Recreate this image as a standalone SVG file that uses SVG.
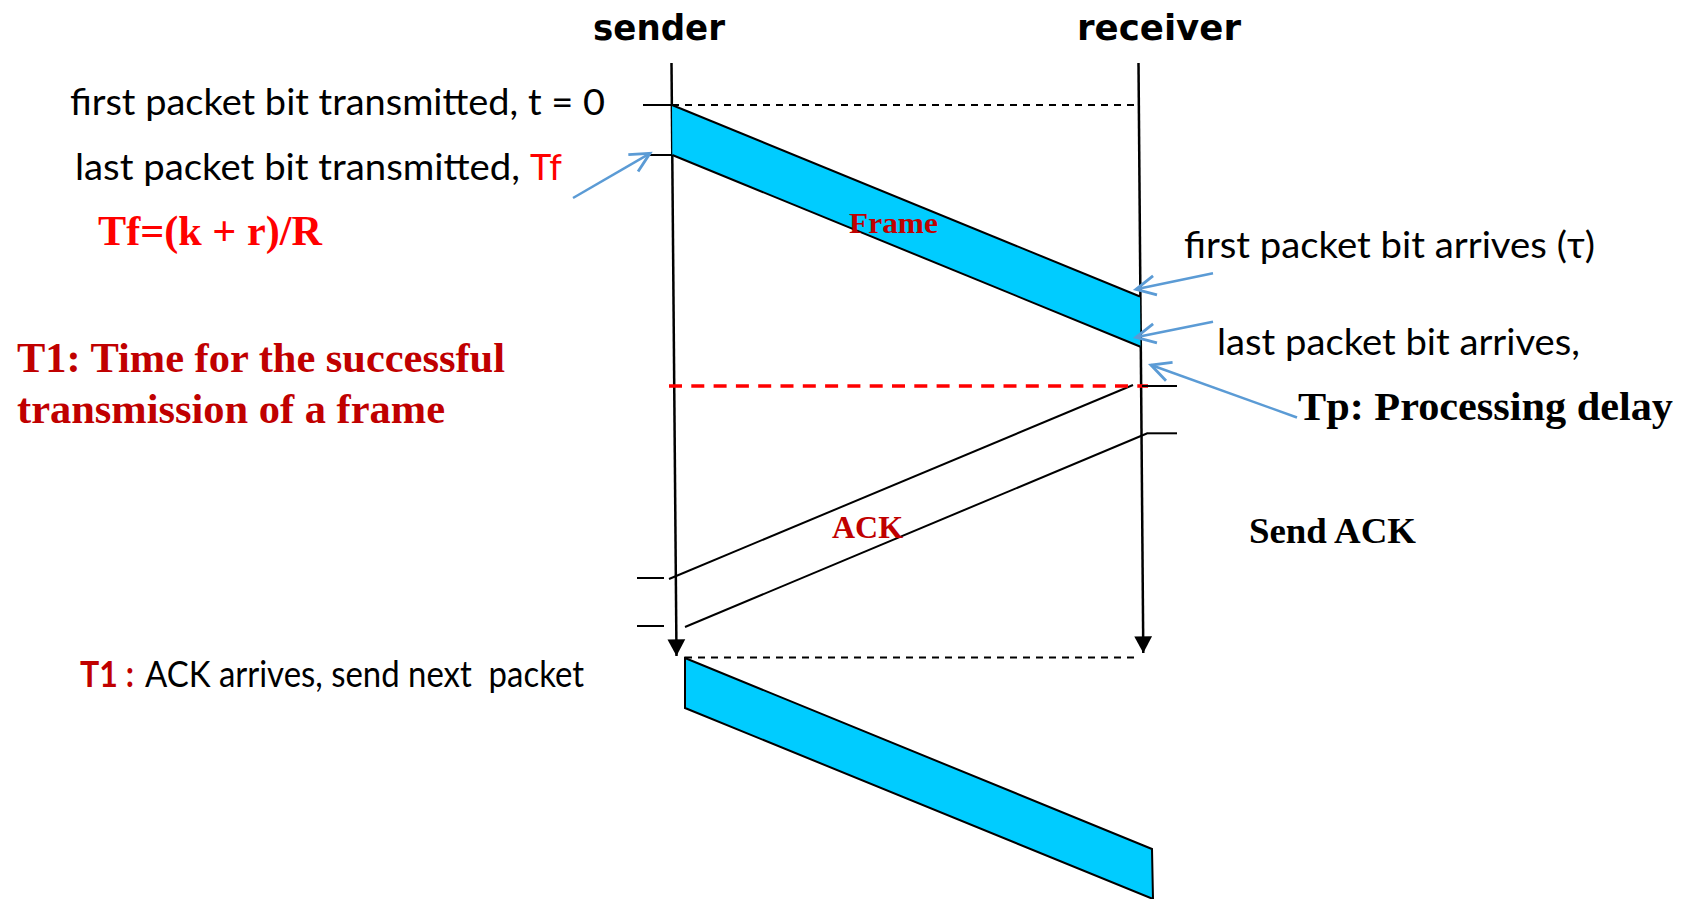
<svg xmlns="http://www.w3.org/2000/svg" width="1682" height="899" viewBox="0 0 1682 899">
<style>
.cal{font-family:Lato,"Noto Sans","Liberation Sans",sans-serif;font-size:37px;fill:#000}
.tnr{font-family:"Liberation Serif","Times New Roman",serif;font-weight:bold}
.comic{font-family:"DejaVu Sans","Liberation Sans",sans-serif;font-weight:bold;font-size:36px;fill:#000}
.life{stroke:#000;stroke-width:2.5;fill:none}
.ln{stroke:#000;stroke-width:2;fill:none}
.dash{stroke:#000;stroke-width:2;stroke-dasharray:7 6;fill:none}
.rdash{stroke:#FF0000;stroke-width:3.5;stroke-dasharray:13 9.3;fill:none}
.blue{stroke:#5B9BD5;stroke-width:2.5;fill:none}
.pkt{fill:#00CCFF;stroke:#000;stroke-width:2;stroke-linejoin:miter}
</style>
<defs>
<marker id="tri" markerUnits="userSpaceOnUse" markerWidth="20" markerHeight="20" refX="0" refY="0" orient="auto" viewBox="-16 -9 17 18" overflow="visible">
<path d="M0,0 L-15,-8 L-15,8 Z" fill="#000"/>
</marker>
<marker id="open" markerUnits="userSpaceOnUse" markerWidth="24" markerHeight="24" refX="0" refY="0" orient="auto" viewBox="-20 -10 21 20" overflow="visible">
<path d="M-17,-8.5 L0,0 L-17,8.5" fill="none" stroke="#5B9BD5" stroke-width="2.5"/>
</marker>
</defs>

<g id="sender">
<text class="comic" x="593" y="40" textLength="132" lengthAdjust="spacingAndGlyphs">sender</text>
<line class="life" x1="671.5" y1="63" x2="676.5" y2="656" marker-end="url(#tri)"/>
</g>
<g id="receiver">
<text class="comic" x="1077" y="40" textLength="164" lengthAdjust="spacingAndGlyphs">receiver</text>
<line class="life" x1="1138.5" y1="63" x2="1143.3" y2="653" marker-end="url(#tri)"/>
</g>

<g id="frame1">
<polygon points="672,105 1140,296.5 1140.5,346.7 672.3,155" fill="#00CCFF" stroke="none"/>
<line class="ln" x1="672" y1="105" x2="1140" y2="296.5"/>
<line class="ln" x1="672.3" y1="155" x2="1140.5" y2="346.7"/>
<text class="tnr" x="849" y="233" font-size="30" fill="#C00000" textLength="89" lengthAdjust="spacingAndGlyphs">Frame</text>
</g>

<g id="ack">
<line class="ln" x1="1133" y1="385" x2="669" y2="579"/>
<line class="ln" x1="1148" y1="433" x2="685" y2="627"/>
<text class="tnr" x="832" y="538" font-size="32" fill="#C00000" textLength="71" lengthAdjust="spacingAndGlyphs">ACK</text>
</g>

<g id="frame2">
<polygon class="pkt" points="685,658 1152,849 1153,899 685,708"/>
</g>

<g id="connectors">
<line class="dash" x1="672" y1="105" x2="1138" y2="105"/>
<line class="dash" x1="685" y1="657.5" x2="1137" y2="657.5"/>
<line class="rdash" x1="669" y1="386" x2="1148" y2="386"/>
<line class="ln" x1="643" y1="105" x2="672" y2="105"/>
<line class="ln" x1="650" y1="155" x2="672" y2="155" stroke="#333"/>
<line class="ln" x1="1142" y1="386" x2="1177" y2="386"/>
<line class="ln" x1="1148" y1="433.3" x2="1177" y2="433.3"/>
<line class="ln" x1="637" y1="578" x2="664" y2="578"/>
<line class="ln" x1="637" y1="626" x2="664" y2="626"/>
<line class="blue" x1="573" y1="198" x2="650" y2="153.3" marker-end="url(#open)"/>
<line class="blue" x1="1213" y1="273.3" x2="1136" y2="289.3" marker-end="url(#open)"/>
<line class="blue" x1="1213" y1="321.7" x2="1136" y2="337.3" marker-end="url(#open)"/>
<line class="blue" x1="1297" y1="417.5" x2="1151" y2="365" marker-end="url(#open)"/>
</g>

<g id="labels-left">
<text class="cal" x="70" y="115" textLength="535" lengthAdjust="spacingAndGlyphs">first packet bit transmitted, t = 0</text>
<text class="cal" x="75" y="180" textLength="445" lengthAdjust="spacingAndGlyphs">last packet bit transmitted,</text>
<text class="cal" x="530" y="180" fill="#FF0000" style="fill:#FF0000" textLength="32" lengthAdjust="spacingAndGlyphs">Tf</text>
<text class="tnr" x="98" y="245" font-size="42" fill="#FF0000" textLength="224" lengthAdjust="spacingAndGlyphs">Tf=(k + r)/R</text>
<text class="tnr" x="17" y="372" font-size="42" fill="#C00000" textLength="488" lengthAdjust="spacingAndGlyphs">T1: Time for the successful</text>
<text class="tnr" x="17" y="423" font-size="42" fill="#C00000" textLength="428" lengthAdjust="spacingAndGlyphs">transmission of a frame</text>
<text class="cal" x="80" y="687" font-weight="bold" style="fill:#C00000" textLength="54" lengthAdjust="spacingAndGlyphs">T1 :</text>
<text class="cal" x="145" y="687" xml:space="preserve" textLength="439" lengthAdjust="spacingAndGlyphs">ACK arrives, send next  packet</text>
</g>

<g id="labels-right">
<text class="cal" x="1184" y="258" textLength="411" lengthAdjust="spacingAndGlyphs">first packet bit arrives (τ)</text>
<text class="cal" x="1217" y="355" textLength="363" lengthAdjust="spacingAndGlyphs">last packet bit arrives,</text>
<text class="tnr" x="1298" y="420" font-size="41" fill="#000" textLength="375" lengthAdjust="spacingAndGlyphs">Tp: Processing delay</text>
<text class="tnr" x="1249" y="543" font-size="36" fill="#000" textLength="167" lengthAdjust="spacingAndGlyphs">Send ACK</text>
</g>
</svg>
